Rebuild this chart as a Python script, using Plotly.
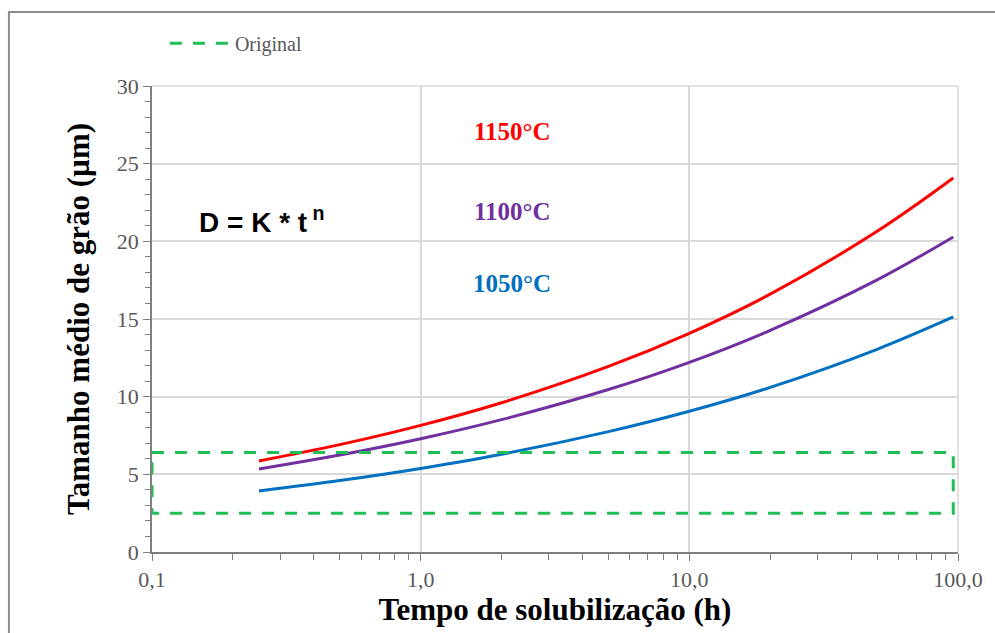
import math
import plotly.graph_objects as go

# ---- data ----
tempo_h = [0.25, 0.5, 1, 2, 5, 10, 20, 50, 96]
d_1150 = [5.86, 6.91, 8.15, 9.61, 11.95, 14.08, 16.60, 20.65, 24.08]
d_1100 = [5.34, 6.24, 7.29, 8.52, 10.46, 12.21, 14.27, 17.52, 20.28]
d_1050 = [3.93, 4.60, 5.38, 6.29, 7.75, 9.06, 10.60, 13.05, 15.13]

orig_x = [0.1, 96, 96, 0.1, 0.1]
orig_y = [6.4, 6.4, 2.5, 2.5, 6.4]

labels = ["1150°C", "1100°C", "1050°C"]
label_x = [2.19, 2.19, 2.19]
label_y = [27.1, 21.9, 17.3]
colors = ["#ff0000", "#7030a0", "#0070c0"]

SERIF = "Liberation Serif, Times New Roman, serif"
GREY = "#595959"

fig = go.Figure()

for name, ys, c in zip(labels, [d_1150, d_1100, d_1050], colors):
    fig.add_trace(go.Scatter(x=tempo_h, y=ys, mode="lines", name=name,
                             line=dict(color=c, width=3, shape="spline"),
                             showlegend=False))

fig.add_trace(go.Scatter(x=orig_x, y=orig_y, mode="lines", name="Original",
                         line=dict(color="#20bf55", width=3, dash="12px,11px"),
                         showlegend=True))

for t, xv, yv, c in zip(labels, label_x, label_y, colors):
    fig.add_annotation(x=math.log10(xv), y=yv, xref="x", yref="y", text=f"<b>{t}</b>",
                       showarrow=False,
                       font=dict(family=SERIF, size=25, color=c))

fig.add_annotation(x=0.0556, y=0.712, xref="paper", yref="paper",
                   xanchor="left", yanchor="middle",
                   text="<b>D = K * t<sup> n</sup></b>", showarrow=False,
                   font=dict(family="Liberation Sans, Arial, sans-serif", size=28, color="#000000"))

# outer frame
fig.add_shape(type="rect", xref="paper", yref="paper",
              x0=-0.1775, x1=1.06, y0=-0.2, y1=1.1588,
              line=dict(color="#8c8c8c", width=2), layer="below")
# light top / right plot border
fig.add_shape(type="line", xref="paper", yref="paper", x0=0, x1=1, y0=1, y1=1,
              line=dict(color="#d9d9d9", width=1.5))
fig.add_shape(type="line", xref="paper", yref="paper", x0=1, x1=1, y0=0, y1=1,
              line=dict(color="#d9d9d9", width=1.5))

fig.update_layout(
    width=995, height=633,
    margin=dict(l=152, r=33, t=86, b=81),
    paper_bgcolor="white", plot_bgcolor="white",
    separators=",.",
    showlegend=True,
    legend=dict(x=0.016, y=1.092, xanchor="left", yanchor="middle",
                bgcolor="rgba(0,0,0,0)", itemwidth=60,
                font=dict(family=SERIF, size=20, color=GREY)),
    xaxis=dict(type="log", range=[-1, 2], dtick=1, tickformat=".1f",
               showgrid=True, gridcolor="#d9d9d9", gridwidth=1.5,
               showline=True, linecolor="#7f7f7f", linewidth=1.5,
               ticks="outside", ticklen=7, tickcolor="#7f7f7f",
               minor=dict(ticks="outside", ticklen=6, tickcolor="#7f7f7f", dtick="D1", showgrid=False),
               tickfont=dict(family=SERIF, size=22, color=GREY),
               title=dict(text="<b>Tempo de solubilização (h)</b>", standoff=6,
                          font=dict(family=SERIF, size=31, color="#000000")),
               zeroline=False),
    yaxis=dict(range=[0, 30], dtick=5,
               showgrid=True, gridcolor="#d9d9d9", gridwidth=1.5,
               showline=True, linecolor="#7f7f7f", linewidth=1.5,
               ticks="outside", ticklen=7, tickcolor="#7f7f7f",
               minor=dict(ticks="outside", ticklen=5, tickcolor="#7f7f7f", dtick=1, showgrid=False),
               tickfont=dict(family=SERIF, size=22, color=GREY),
               title=dict(text="<b>Tamanho médio de grão (µm)</b>", standoff=18,
                          font=dict(family=SERIF, size=31, color="#000000")),
               zeroline=False),
)

fig.write_html("out.html")
